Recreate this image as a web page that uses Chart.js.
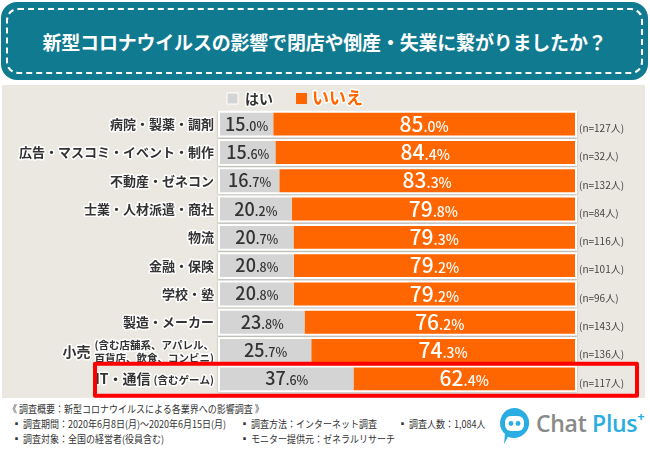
<!DOCTYPE html>
<html lang="ja">
<head>
<meta charset="utf-8">
<script src="https://cdn.jsdelivr.net/npm/chart.js@4.4.0/dist/chart.umd.min.js"></script>
<style>
  body { margin: 0; width: 650px; height: 450px; background: #fff; position: relative; overflow: hidden;
         font-family: "Noto Sans CJK JP", sans-serif; }
  .title { position: absolute; left: 1px; top: 2px; width: 647px; height: 78px; background: #0f7a90; border-radius: 16px; }
  .title .inner { position: absolute; left: 5px; top: 6px; right: 5px; bottom: 6px; border: 2px dashed #fff;
                  border-radius: 12px; display: flex; align-items: center; justify-content: center;
                  color: #fff; font-weight: bold; font-size: 19px; letter-spacing: -0.2px; }
  .panel { position: absolute; left: 2px; top: 85px; width: 643px; height: 313px; background: #ebe8e2; }
  .foot { position: absolute; font-size: 10px; color: #333; white-space: nowrap; line-height: 12px;
          transform: scaleX(0.9); transform-origin: left center; }
  .logo { position: absolute; left: 496px; top: 404px; width: 150px; height: 42px; }
  .logo .txt { position: absolute; left: 40px; top: 3px; font-family: "Open Sans", sans-serif; font-weight: 600;
               font-size: 23px; color: #8a8a8a; letter-spacing: -0.3px; }
  .logo .txt b { color: #29ade2; font-weight: 600; }
  .logo .txt sup { color: #29ade2; font-size: 13px; font-weight: 700; position: relative; top: -2px; }
</style>
</head>
<body>
<div class="title"><div class="inner">新型コロナウイルスの影響で閉店や倒産・失業に繋がりましたか？</div></div>
<div class="panel"><canvas id="chart" width="643" height="313"></canvas></div>

<div class="foot" style="left:8px;top:403px;">《 調査概要：新型コロナウイルスによる各業界への影響調査 》</div>
<div class="foot" style="left:12px;top:418px;">▪ 調査期間：2020年6月8日(月)～2020年6月15日(月)</div>
<div class="foot" style="left:240px;top:418px;">▪ 調査方法：インターネット調査</div>
<div class="foot" style="left:398px;top:418px;">▪ 調査人数：1,084人</div>
<div class="foot" style="left:12px;top:433px;">▪ 調査対象：全国の経営者(役員含む)</div>
<div class="foot" style="left:240px;top:433px;">▪ モニター提供元：ゼネラルリサーチ</div>

<div class="logo">
  <svg width="36" height="42" style="position:absolute;left:0;top:0">
    <path d="M18 4 a15 15 0 1 1 -6 28.7 L8 40 L9 30 A15 15 0 0 1 18 4 Z" fill="#29ade2"/>
    <rect x="9" y="12" width="19" height="15" rx="6" fill="#fff"/>
    <circle cx="15" cy="19.5" r="2.4" fill="#29ade2"/>
    <circle cx="22" cy="19.5" r="2.4" fill="#29ade2"/>
  </svg>
  <div class="txt">Chat <b>Plus</b><sup>+</sup></div>
</div>

<script>
  const categories = ["病院・製薬・調剤", "広告・マスコミ・イベント・制作", "不動産・ゼネコン", "士業・人材派遣・商社",
    "物流", "金融・保険", "学校・塾", "製造・メーカー", "小売", "IT・通信"];
  // small notes printed next to some categories
  const categoryNotes = ["", "", "", "", "", "", "", "", ["(含む店舗系、アパレル、", "百貨店、飲食、コンビニ)"], "(含むゲーム)"];
  const yesValues = [15.0, 15.6, 16.7, 20.2, 20.7, 20.8, 20.8, 23.8, 25.7, 37.6];
  const noValues = [85.0, 84.4, 83.3, 79.8, 79.3, 79.2, 79.2, 76.2, 74.3, 62.4];
  const sampleSizes = [127, 32, 132, 84, 116, 101, 96, 143, 136, 117];
  const seriesNames = ["はい", "いいえ"];
  const highlightIndex = 9;

  const FONT = '"Noto Sans CJK JP", sans-serif';

  function haloText(ctx, text, x, y) {
    ctx.strokeStyle = "#fff";
    ctx.lineWidth = 3;
    ctx.lineJoin = "round";
    ctx.strokeText(text, x, y);
    ctx.fillText(text, x, y);
  }

  // value like 15.0% with big integer part and small decimals
  function drawValue(ctx, v, cx, cy, bigSize, smallSize, color) {
    const parts = v.toFixed(1).split(".");
    const a = parts[0], b = "." + parts[1] + "%";
    ctx.font = "500 " + bigSize + "px " + FONT;
    const wa = ctx.measureText(a).width;
    ctx.font = "500 " + smallSize + "px " + FONT;
    const wb = ctx.measureText(b).width;
    let x = cx - (wa + wb) / 2;
    ctx.fillStyle = color;
    ctx.textAlign = "left";
    ctx.textBaseline = "alphabetic";
    ctx.font = "500 " + bigSize + "px " + FONT;
    ctx.fillText(a, x, cy + bigSize * 0.36);
    ctx.font = "500 " + smallSize + "px " + FONT;
    ctx.fillText(b, x + wa, cy + bigSize * 0.36);
  }

  const decor = {
    id: "decor",
    beforeDatasetsDraw(chart) {
      const ctx = chart.ctx;
      const xs = chart.scales.x;
      const meta = chart.getDatasetMeta(0);
      const x0 = xs.getPixelForValue(0), x1 = xs.getPixelForValue(100);
      ctx.save();
      meta.data.forEach((bar) => {
        const h = bar.height;
        ctx.shadowColor = "rgba(0,0,0,0.25)";
        ctx.shadowBlur = 2;
        ctx.shadowOffsetY = 1;
        ctx.fillStyle = "#fff";
        ctx.fillRect(x0 - 2, bar.y - h / 2 - 2, x1 - x0 + 4, h + 4);
      });
      ctx.restore();
    },
    afterDatasetsDraw(chart) {
      const ctx = chart.ctx;
      const area = chart.chartArea;
      const yMeta = chart.getDatasetMeta(0);
      const nMeta = chart.getDatasetMeta(1);
      ctx.save();

      // legend
      const colors = chart.data.datasets.map((d) => d.backgroundColor);
      ctx.textBaseline = "middle";
      ctx.textAlign = "left";
      ctx.fillStyle = colors[0];
      ctx.strokeStyle = "#fff";
      ctx.lineWidth = 1;
      ctx.fillRect(225, 8, 11, 11);
      ctx.strokeRect(225, 8, 11, 11);
      ctx.font = "bold 14px " + FONT;
      ctx.fillStyle = "#333";
      haloText(ctx, chart.data.datasets[0].label, 243, 14);
      ctx.fillStyle = colors[1];
      ctx.fillRect(294, 8, 11, 11);
      ctx.font = "bold 17px " + FONT;
      ctx.fillStyle = colors[1];
      haloText(ctx, chart.data.datasets[1].label, 310, 13);

      chart.data.labels.forEach((label, i) => {
        const yb = yMeta.data[i], nb = nMeta.data[i];
        const cy = yb.y;
        const note = categoryNotes[i];
        ctx.fillStyle = "#333";
        ctx.textBaseline = "middle";
        const right = area.left - 6;
        if (Array.isArray(note)) {
          ctx.textAlign = "right";
          ctx.font = "bold 10.5px " + FONT;
          haloText(ctx, note[0], right, cy - 6);
          haloText(ctx, note[1], right, cy + 7);
          const w = Math.max(ctx.measureText(note[0]).width, ctx.measureText(note[1]).width);
          ctx.font = "bold 14px " + FONT;
          haloText(ctx, label, right - w - 4, cy + 1);
        } else if (note) {
          ctx.textAlign = "right";
          ctx.font = "bold 10.5px " + FONT;
          haloText(ctx, note, right, cy + 1);
          const w = ctx.measureText(note).width;
          ctx.font = "bold 14px " + FONT;
          haloText(ctx, label, right - w - 3, cy);
        } else {
          ctx.textAlign = "right";
          ctx.font = "bold 13px " + FONT;
          haloText(ctx, label, right, cy);
        }

        drawValue(ctx, yesValues[i], (yb.base + yb.x) / 2, cy, 18, 12.5, "#333");
        drawValue(ctx, noValues[i], (nb.base + nb.x) / 2, cy, 21, 14, "#fff");

        ctx.textAlign = "left";
        ctx.textBaseline = "middle";
        ctx.font = "10px " + FONT;
        ctx.fillStyle = "#444";
        ctx.fillText("(n=" + sampleSizes[i] + "人)", area.right + 4, cy + 4);
      });

      // highlight box around one row
      const hb = yMeta.data[highlightIndex];
      ctx.strokeStyle = "#ff0000";
      ctx.lineWidth = 4;
      ctx.strokeRect(93, hb.y - 15, 542, 32);
      ctx.restore();
    }
  };

  new Chart(document.getElementById("chart"), {
    type: "bar",
    data: {
      labels: categories,
      datasets: [
        { label: seriesNames[0], data: yesValues, backgroundColor: "#d4d4d4" },
        { label: seriesNames[1], data: noValues, backgroundColor: "#ff6600" }
      ]
    },
    options: {
      indexAxis: "y",
      responsive: false,
      animation: false,
      layout: { padding: { left: 218, right: 70, top: 25, bottom: 5 } },
      datasets: { bar: { categoryPercentage: 1, barPercentage: 0.81 } },
      scales: {
        x: { stacked: true, min: 0, max: 100, display: false },
        y: { stacked: true, display: false }
      },
      plugins: { legend: { display: false }, tooltip: { enabled: false } }
    },
    plugins: [decor]
  });
</script>
</body>
</html>
